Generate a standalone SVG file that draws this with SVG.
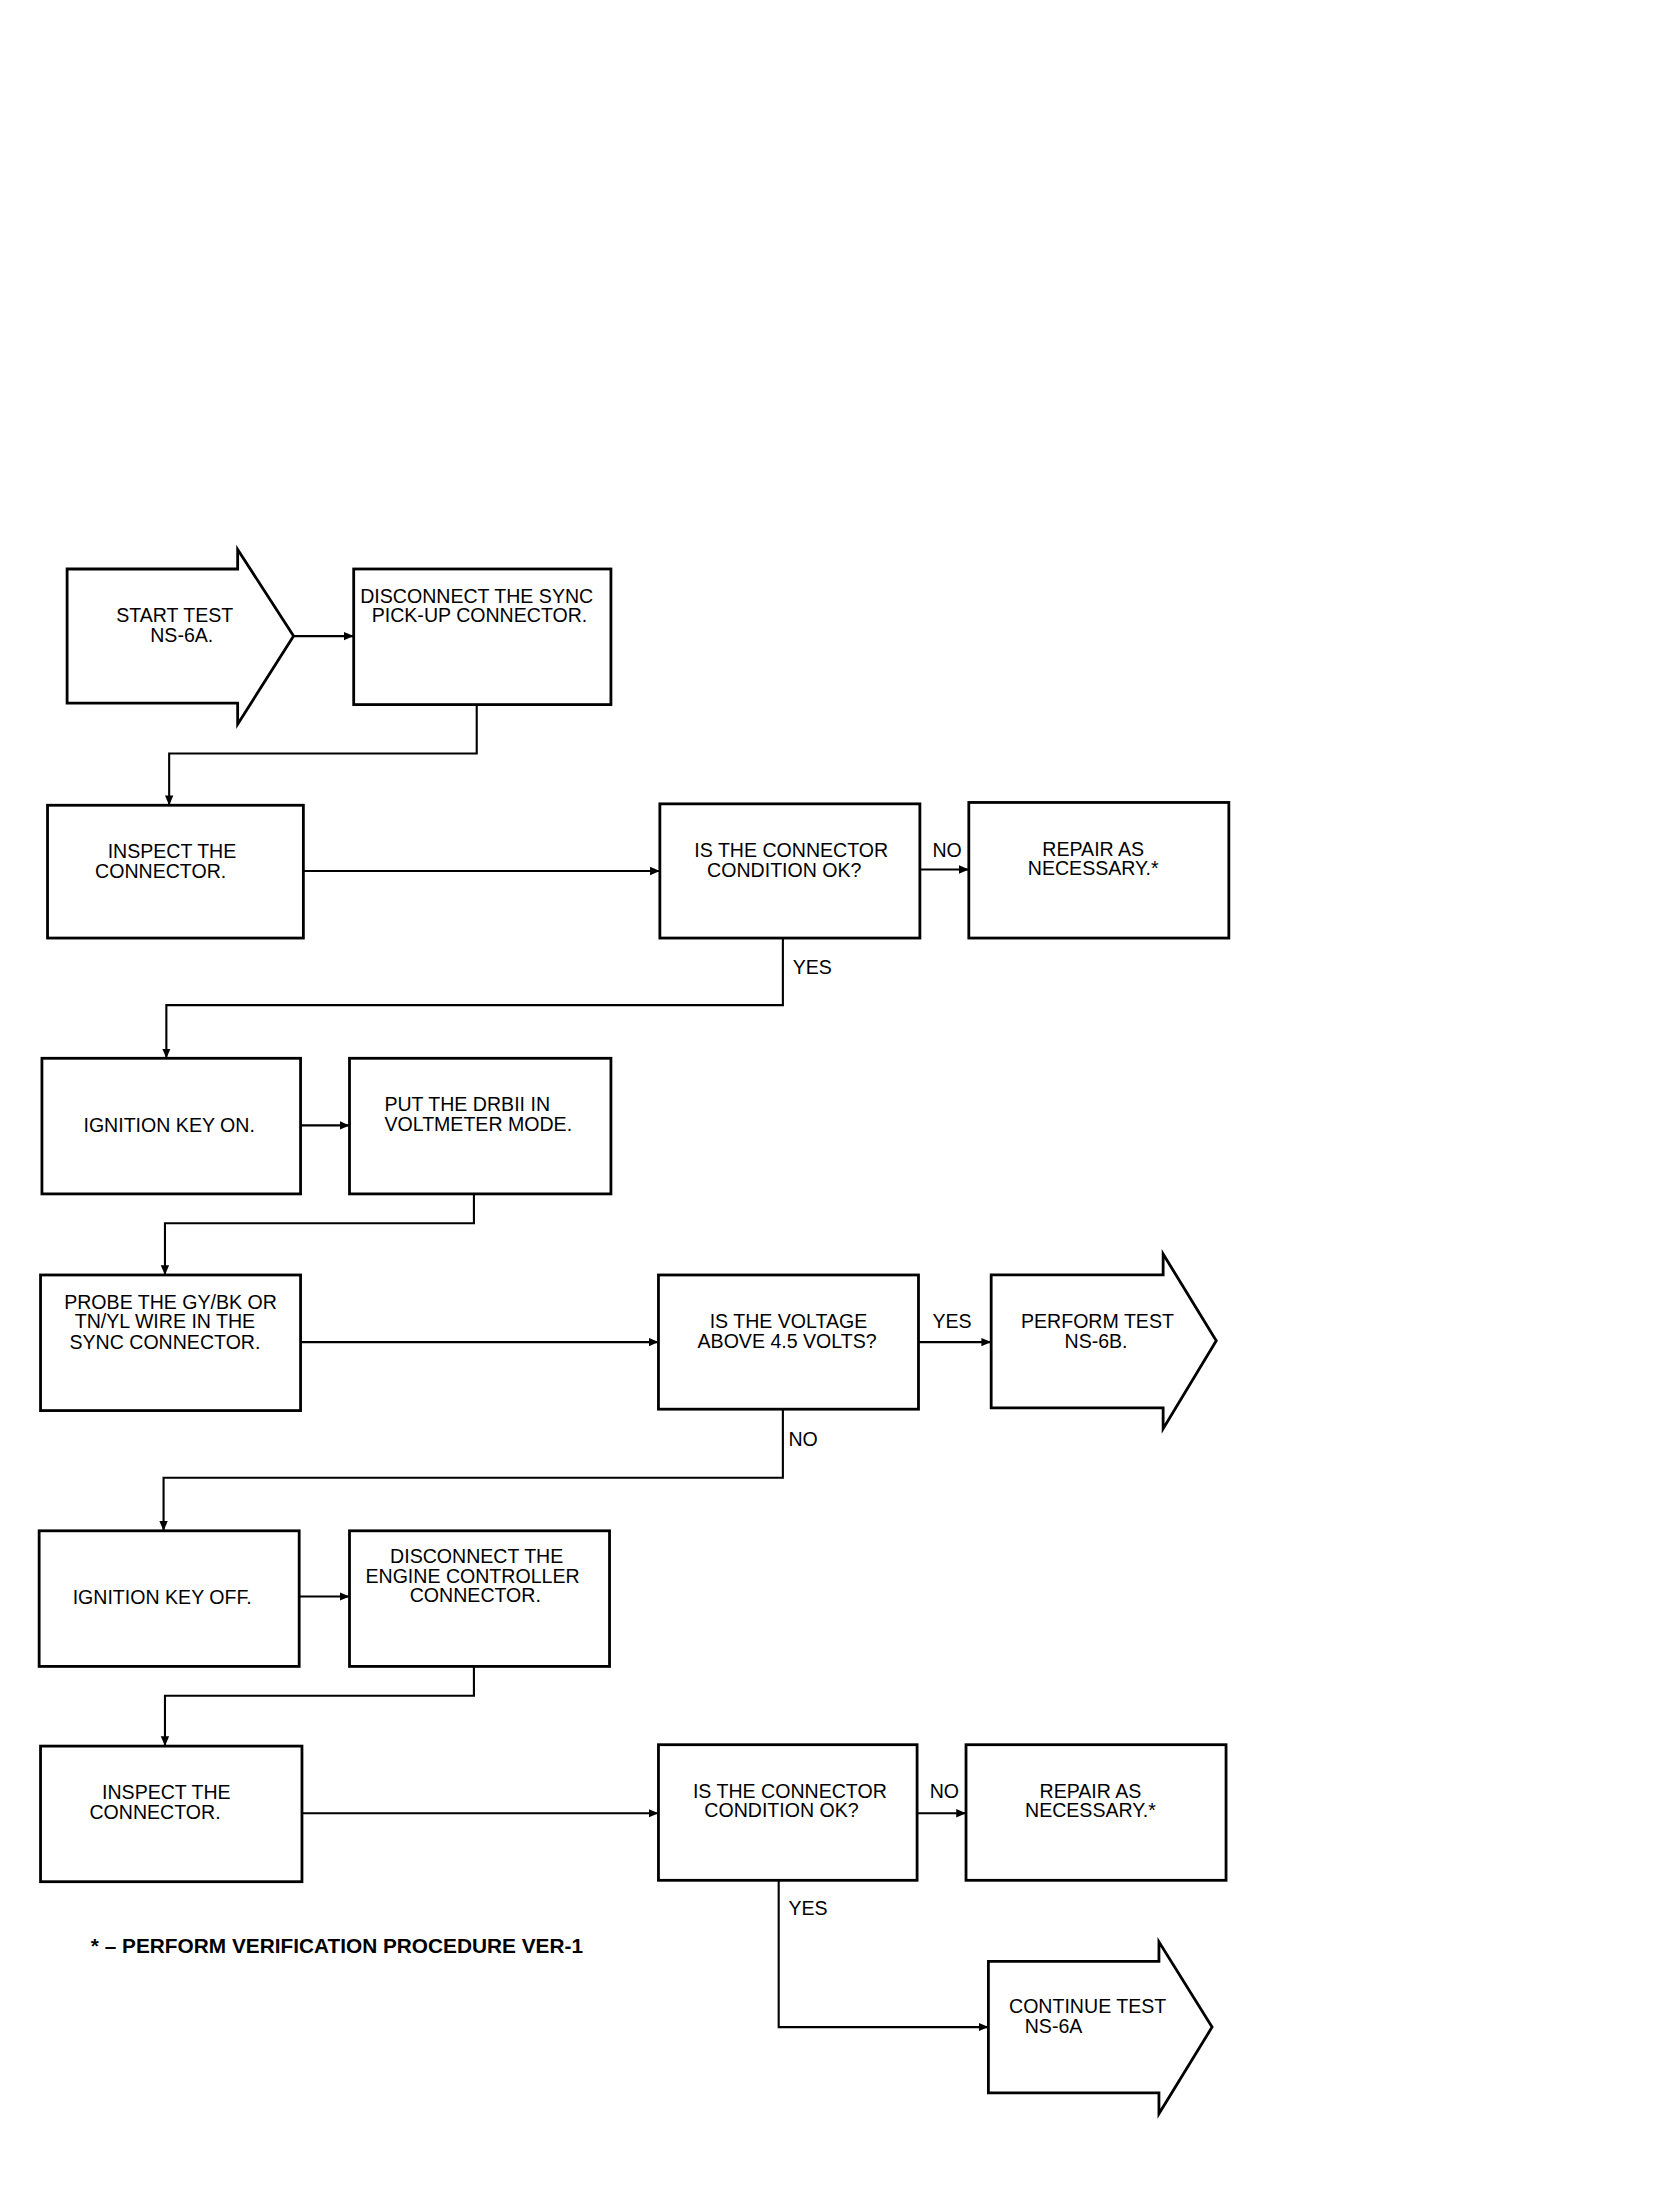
<svg xmlns="http://www.w3.org/2000/svg" width="1664" height="2192" viewBox="0 0 1664 2192">
<style>
.b{fill:#fff;stroke:#000;stroke-width:2}
.c{fill:none;stroke:#000;stroke-width:1.5}
.t{font-family:"Liberation Sans",Arial,sans-serif;font-size:14px;fill:#000}
.m{text-anchor:middle}
.f{font-family:"Liberation Sans",Arial,sans-serif;font-size:14px;font-weight:bold;fill:#000}
</style>
<defs>
<marker id="ah" markerWidth="8" markerHeight="8" refX="7" refY="4" orient="auto" markerUnits="userSpaceOnUse">
<path d="M0,1 L7,4 L0,7 Z" fill="#000"/>
</marker>
</defs>
<rect width="1664" height="2192" fill="#fff"/>
<g transform="scale(1.398)">
<g id="connectors">
<path class="c" d="M210,455 H253" marker-end="url(#ah)"/>
<path class="c" d="M341,504 V539 H121 V576" marker-end="url(#ah)"/>
<path class="c" d="M217,623 H472" marker-end="url(#ah)"/>
<path class="c" d="M658,622 H693" marker-end="url(#ah)"/>
<path class="c" d="M560,671 V719 H119 V757" marker-end="url(#ah)"/>
<path class="c" d="M215,805 H250" marker-end="url(#ah)"/>
<path class="c" d="M339,854 V875 H118 V912" marker-end="url(#ah)"/>
<path class="c" d="M215,960 H471" marker-end="url(#ah)"/>
<path class="c" d="M657,960 H709" marker-end="url(#ah)"/>
<path class="c" d="M560,1008 V1057 H117 V1095" marker-end="url(#ah)"/>
<path class="c" d="M214,1142 H250" marker-end="url(#ah)"/>
<path class="c" d="M339,1192 V1213 H118 V1249" marker-end="url(#ah)"/>
<path class="c" d="M216,1297 H471" marker-end="url(#ah)"/>
<path class="c" d="M656,1297 H691" marker-end="url(#ah)"/>
<path class="c" d="M557,1345 V1450 H707" marker-end="url(#ah)"/>
<text class="t" x="667" y="613">NO</text>
<text class="t" x="567" y="697">YES</text>
<text class="t" x="667" y="950">YES</text>
<text class="t" x="564" y="1034">NO</text>
<text class="t" x="665" y="1286">NO</text>
<text class="t" x="564" y="1370">YES</text>
</g>
<g id="start">
<path class="b" d="M48,407 H170 V393 L210,455 L170,518 V503 H48 Z"/>
<text class="t m" x="125" y="445">START TEST</text>
<text class="t m" x="130" y="459">NS-6A.</text>
</g>
<g id="disconnect-sync">
<rect class="b" x="253" y="407" width="184" height="97"/>
<text class="t m" x="341" y="431">DISCONNECT THE SYNC</text>
<text class="t m" x="343" y="445">PICK-UP CONNECTOR.</text>
</g>
<g id="inspect1">
<rect class="b" x="34" y="576" width="183" height="95"/>
<text class="t m" x="123" y="614">INSPECT THE</text>
<text class="t" x="68" y="628">CONNECTOR.</text>
</g>
<g id="decision1">
<rect class="b" x="472" y="575" width="186" height="96"/>
<text class="t m" x="566" y="613">IS THE CONNECTOR</text>
<text class="t m" x="561" y="627">CONDITION OK?</text>
</g>
<g id="repair1">
<rect class="b" x="693" y="574" width="186" height="97"/>
<text class="t m" x="782" y="612">REPAIR AS</text>
<text class="t m" x="782" y="626">NECESSARY.*</text>
</g>
<g id="key-on">
<rect class="b" x="30" y="757" width="185" height="97"/>
<text class="t m" x="121" y="810">IGNITION KEY ON.</text>
</g>
<g id="drbii">
<rect class="b" x="250" y="757" width="187" height="97"/>
<text class="t" x="275" y="795">PUT THE DRBII IN</text>
<text class="t" x="275" y="809">VOLTMETER MODE.</text>
</g>
<g id="probe">
<rect class="b" x="29" y="912" width="186" height="97"/>
<text class="t m" x="122" y="936">PROBE THE GY/BK OR</text>
<text class="t m" x="118" y="950">TN/YL WIRE IN THE</text>
<text class="t m" x="118" y="965">SYNC CONNECTOR.</text>
</g>
<g id="decision2">
<rect class="b" x="471" y="912" width="186" height="96"/>
<text class="t m" x="564" y="950">IS THE VOLTAGE</text>
<text class="t m" x="563" y="964">ABOVE 4.5 VOLTS?</text>
</g>
<g id="perform-6b">
<path class="b" d="M709,912 H832 V897 L870,959 L832,1022 V1007 H709 Z"/>
<text class="t m" x="785" y="950">PERFORM TEST</text>
<text class="t m" x="784" y="964">NS-6B.</text>
</g>
<g id="key-off">
<rect class="b" x="28" y="1095" width="186" height="97"/>
<text class="t m" x="116" y="1147">IGNITION KEY OFF.</text>
</g>
<g id="disconnect-ecu">
<rect class="b" x="250" y="1095" width="186" height="97"/>
<text class="t m" x="341" y="1118">DISCONNECT THE</text>
<text class="t m" x="338" y="1132">ENGINE CONTROLLER</text>
<text class="t m" x="340" y="1146">CONNECTOR.</text>
</g>
<g id="inspect2">
<rect class="b" x="29" y="1249" width="187" height="97"/>
<text class="t m" x="119" y="1287">INSPECT THE</text>
<text class="t" x="64" y="1301">CONNECTOR.</text>
</g>
<g id="decision3">
<rect class="b" x="471" y="1248" width="185" height="97"/>
<text class="t m" x="565" y="1286">IS THE CONNECTOR</text>
<text class="t m" x="559" y="1300">CONDITION OK?</text>
</g>
<g id="repair2">
<rect class="b" x="691" y="1248" width="186" height="97"/>
<text class="t m" x="780" y="1286">REPAIR AS</text>
<text class="t m" x="780" y="1300">NECESSARY.*</text>
</g>
<g id="continue">
<path class="b" d="M707,1403 H829 V1389 L867,1450 L829,1512 V1497 H707 Z"/>
<text class="t m" x="778" y="1440">CONTINUE TEST</text>
<text class="t" x="733" y="1454">NS-6A</text>
</g>
<g id="footnote">
<text class="f" x="65" y="1397" textLength="352" lengthAdjust="spacingAndGlyphs">* – PERFORM VERIFICATION PROCEDURE VER-1</text>
</g>
</g>
</svg>
